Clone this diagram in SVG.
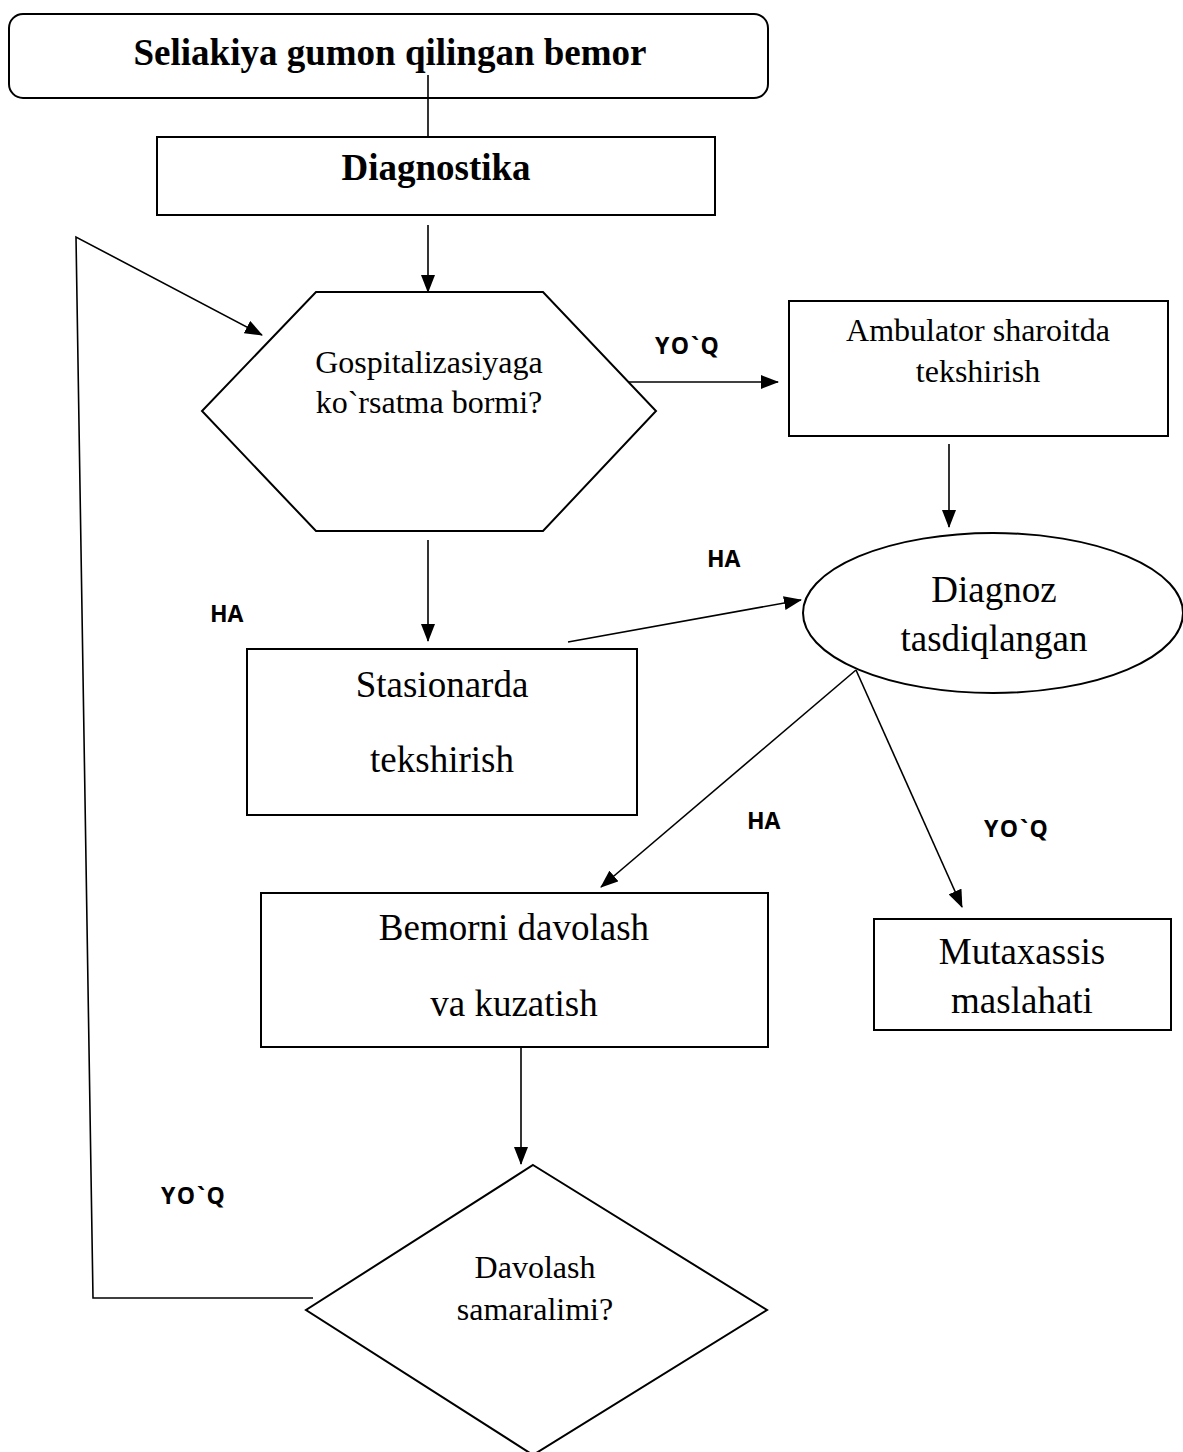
<svg xmlns="http://www.w3.org/2000/svg" width="1183" height="1452" viewBox="0 0 1183 1452">
<style>
.shape{fill:#fff;stroke:#000;stroke-width:2}
.conn{fill:none;stroke:#000;stroke-width:1.6}
.t{font-family:"Liberation Serif","Times New Roman",serif;fill:#000;text-anchor:middle}
.tb{font-family:"Liberation Serif","Times New Roman",serif;font-weight:bold;fill:#000;text-anchor:middle;font-size:37px}
.lg{font-size:37px}
.md{font-size:32px}
.lbl{font-family:"Open Sans","Liberation Sans",sans-serif;font-weight:bold;font-size:23px;fill:#000}
.lw{letter-spacing:1.5px}
</style>
<defs>
<marker id="arr" markerUnits="userSpaceOnUse" markerWidth="18" markerHeight="14" refX="17" refY="7" orient="auto">
<path d="M0,0 L18,7 L0,14 Z" fill="#000"/>
</marker>
</defs>
<rect width="1183" height="1452" fill="#fff"/>
<g id="start">
<rect class="shape" x="9" y="14" width="759" height="84" rx="14"/>
<text class="tb" x="390" y="65">Seliakiya gumon qilingan bemor</text>
</g>
<g id="diagnostika">
<rect class="shape" x="157" y="137" width="558" height="78"/>
<text class="tb" x="436" y="180">Diagnostika</text>
</g>
<g id="gospital">
<polygon class="shape" points="316,292 543,292 656,411 543,531 316,531 202,411"/>
<text class="t md" x="429" y="373">Gospitalizasiyaga</text>
<text class="t md" x="429" y="413">ko`rsatma bormi?</text>
</g>
<g id="ambulator">
<rect class="shape" x="789" y="301" width="379" height="135"/>
<text class="t md" x="978" y="341">Ambulator sharoitda</text>
<text class="t md" x="978" y="382">tekshirish</text>
</g>
<g id="diagnoz">
<ellipse class="shape" cx="993" cy="613" rx="190" ry="80"/>
<text class="t lg" x="994" y="602">Diagnoz</text>
<text class="t lg" x="994" y="651">tasdiqlangan</text>
</g>
<g id="stasionar">
<rect class="shape" x="247" y="649" width="390" height="166"/>
<text class="t lg" x="442" y="697">Stasionarda</text>
<text class="t lg" x="442" y="772">tekshirish</text>
</g>
<g id="davolash">
<rect class="shape" x="261" y="893" width="507" height="154"/>
<text class="t lg" x="514" y="940">Bemorni davolash</text>
<text class="t lg" x="514" y="1016">va kuzatish</text>
</g>
<g id="mutaxassis">
<rect class="shape" x="874" y="919" width="297" height="111"/>
<text class="t lg" x="1022" y="964">Mutaxassis</text>
<text class="t lg" x="1022" y="1013">maslahati</text>
</g>
<g id="samara">
<polygon class="shape" points="533,1165 767,1310 533,1455 306,1310"/>
<text class="t md" x="535" y="1278">Davolash</text>
<text class="t md" x="535" y="1320">samaralimi?</text>
</g>
<g id="connectors">
<line class="conn" x1="428" y1="75" x2="428" y2="137"/>
<line class="conn" x1="428" y1="225" x2="428" y2="292" marker-end="url(#arr)"/>
<line class="conn" x1="628" y1="382" x2="778" y2="382" marker-end="url(#arr)"/>
<line class="conn" x1="949" y1="444" x2="949" y2="527" marker-end="url(#arr)"/>
<line class="conn" x1="428" y1="540" x2="428" y2="641" marker-end="url(#arr)"/>
<line class="conn" x1="568" y1="642" x2="801" y2="600" marker-end="url(#arr)"/>
<line class="conn" x1="856" y1="670" x2="601" y2="887" marker-end="url(#arr)"/>
<line class="conn" x1="856" y1="670" x2="962" y2="907" marker-end="url(#arr)"/>
<line class="conn" x1="521" y1="1047" x2="521" y2="1164" marker-end="url(#arr)"/>
<polyline class="conn" points="313,1298 93,1298 76,237 262,335" marker-end="url(#arr)"/>
</g>
<g id="labels">
<text class="lbl lw" x="655" y="354">YO`Q</text>
<text class="lbl" x="707" y="567">HA</text>
<text class="lbl" x="210" y="622">HA</text>
<text class="lbl" x="747" y="829">HA</text>
<text class="lbl lw" x="984" y="837">YO`Q</text>
<text class="lbl lw" x="161" y="1204">YO`Q</text>
</g>
</svg>
